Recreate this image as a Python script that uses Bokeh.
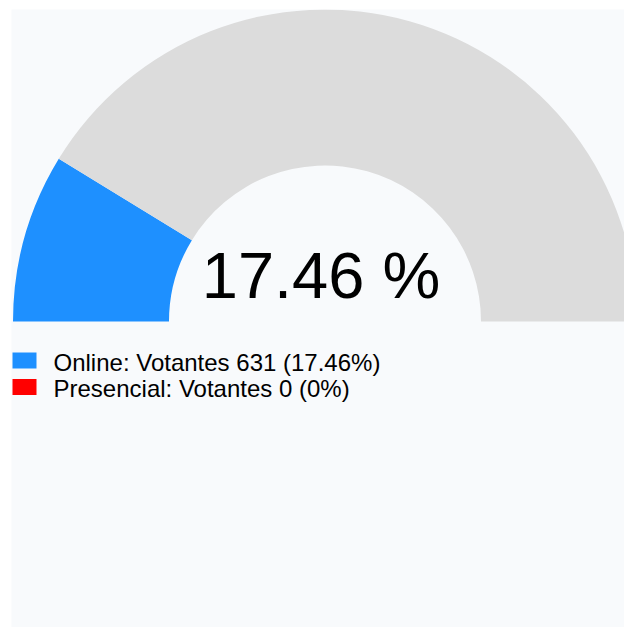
import math
from bokeh.plotting import figure
from bokeh.models import Range1d, ColumnDataSource
from bokeh.core.properties import value
from bokeh.embed import file_html
from bokeh.resources import INLINE

# ---- data ----
categories = ["Online", "Presencial"]
voters = [631, 0]
total_census = 3614          # estimated from 631 -> 17.46 %
colors = ["#1E90FF", "#FF0000"]
rest_color = "#DCDCDC"

pct = [v / total_census * 100 for v in voters]
total_pct = sum(pct)

def fmt(p):
    s = f"{p:.2f}".rstrip("0").rstrip(".")
    return s

labels = [f"{c}: Votantes {v} ({fmt(q)}%)" for c, v, q in zip(categories, voters, pct)]

# ---- layout (screen-like data units, y up) ----
W, H = 624, 627
LEFT, TOP = 11, 9
p = figure(width=W, height=H, output_backend="svg", toolbar_location=None,
           x_range=Range1d(LEFT, W), y_range=Range1d(0, H - TOP),
           min_border_left=LEFT, min_border_top=TOP, min_border_right=0, min_border_bottom=0)
p.axis.visible = False
p.grid.visible = False
p.outline_line_color = None
p.border_fill_color = "white"
p.background_fill_color = "#F8FAFC"

cx, cy = 324.5, 306
r_in, r_out = 156, 312

# gauge wedges (angles: pi = left, 0 = right), filled from the left
starts, ends, cols = [], [], []
acc = 0.0
for q, c in zip(pct, colors):
    if q > 0:
        a0 = math.pi - (acc + q) / 100 * math.pi
        a1 = math.pi - acc / 100 * math.pi
        starts.append(a0); ends.append(a1); cols.append(c)
    acc += q
starts.append(0.0); ends.append(math.pi - acc / 100 * math.pi); cols.append(rest_color)

src = ColumnDataSource(dict(s=starts, e=ends, c=cols))
p.annular_wedge(x=cx, y=cy, inner_radius=r_in, outer_radius=r_out,
                start_angle="s", end_angle="e", fill_color="c", line_color=None, source=src)

# central label
p.text(x=[320.5], y=[H - 275], text=[f"{total_pct:.2f} %"], text_align="center",
       text_baseline="alphabetic", text_font=value("Liberation Sans"),
       text_font_size="65px", text_color="black")

# legend
row_y = [H - 360 - i * 26.5 for i in range(len(categories))]
p.rect(x=[24] * len(categories), y=row_y, width=24, height=16, fill_color=colors, line_color=None)
p.text(x=[53] * len(categories), y=[yy - 1.5 for yy in row_y], text=labels,
       text_align="left", text_baseline="alphabetic", text_font=value("Liberation Sans"),
       text_font_size="24px", text_color="black")

open("out.html", "w").write(file_html(p, INLINE))
